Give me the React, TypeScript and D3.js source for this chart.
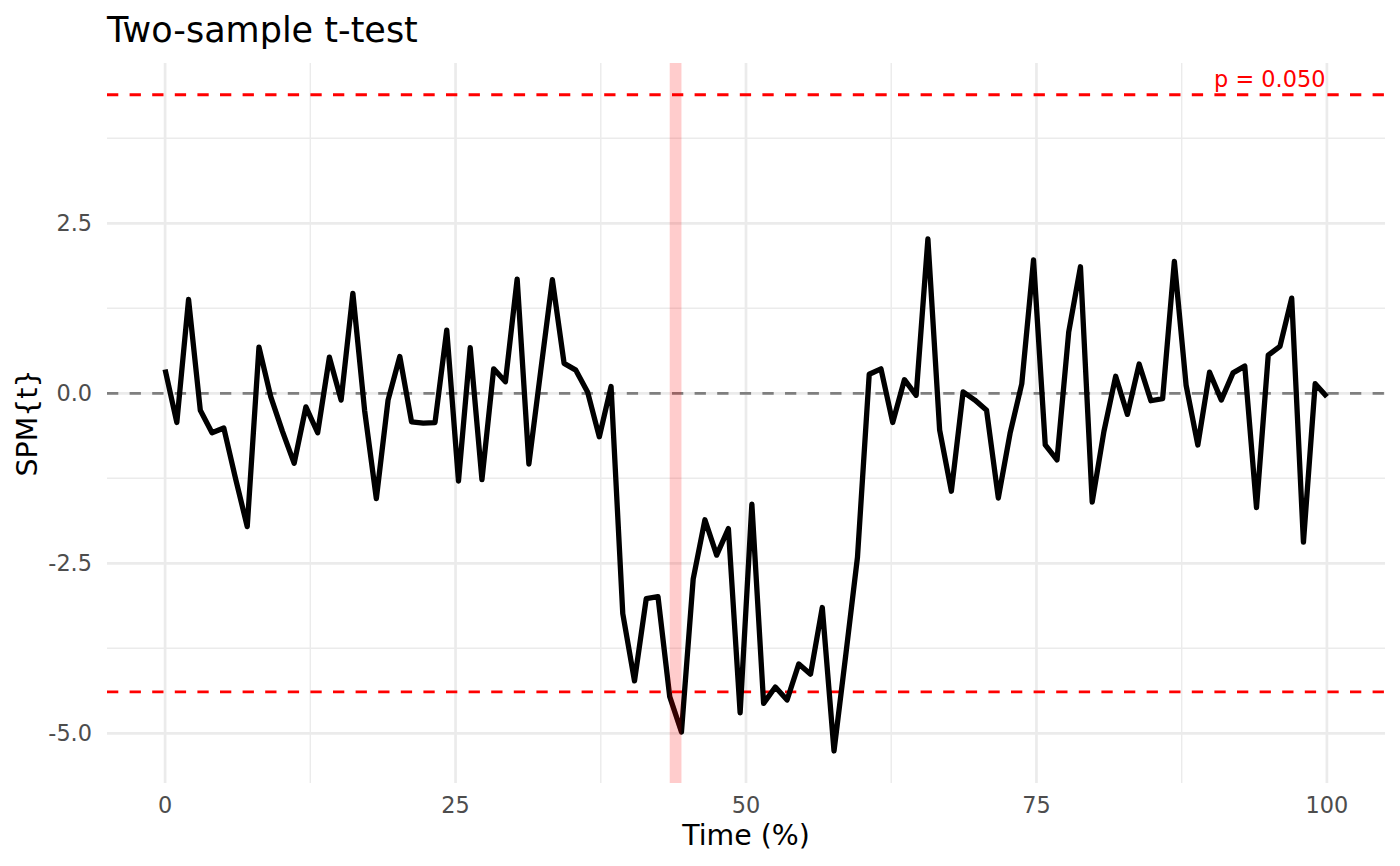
import React from "react";
import * as d3 from "d3";

const spmT: number[] = [
  0.35, -0.43, 1.38, -0.25, -0.58, -0.51, -1.25, -1.96, 0.68, -0.05,
  -0.56, -1.03, -0.2, -0.58, 0.53, -0.1, 1.47, -0.25, -1.55, -0.1,
  0.54, -0.42, -0.44, -0.43, 0.93, -1.29, 0.67, -1.27, 0.36, 0.17,
  1.68, -1.04, 0.32, 1.67, 0.44, 0.34, 0.02, -0.64, 0.1, -3.24,
  -4.23, -3.02, -2.99, -4.46, -4.98, -2.73, -1.86, -2.38, -1.99, -4.7,
  -1.63, -4.56, -4.32, -4.51, -3.98, -4.13, -3.15, -5.26, -3.85, -2.41,
  0.28, 0.36, -0.43, 0.2, -0.03, 2.27, -0.54, -1.44, 0.02, -0.1,
  -0.25, -1.54, -0.59, 0.14, 1.96, -0.76, -0.98, 0.9, 1.86, -1.6,
  -0.56, 0.25, -0.31, 0.43, -0.11, -0.08, 1.94, 0.12, -0.76, 0.31,
  -0.1, 0.3, 0.4, -1.68, 0.56, 0.69, 1.4, -2.19, 0.14, -0.05,
];
const timePct: number[] = spmT.map((_, i) => (i * 100) / (spmT.length - 1));
const threshold = 4.39;
const pLabel = "p = 0.050";
const clusterIdx: [number, number][] = [[43, 44]];
const xTicks: number[] = [0, 25, 50, 75, 100];
const xMinor: number[] = [12.5, 37.5, 62.5, 87.5];
const yTicks: number[] = [-5, -2.5, 0, 2.5];
const yMinor: number[] = [-3.75, -1.25, 1.25, 3.75];
const titleText = "Two-sample t-test";
const xLabel = "Time (%)";
const yLabel = "SPM{t}";

const W = 1400;
const H = 866;
const L = 107, R = 1385, T = 63, B = 783;
const FONT = "'DejaVu Sans', Verdana, sans-serif";
const GRID = "#EBEBEB";

export default function App() {
  const x = d3.scaleLinear().domain([-5, 105]).range([L, R]);
  const y = d3.scaleLinear().domain([-5.731, 4.857]).range([B, T]);
  const line = d3
    .line<number>()
    .x((_, i) => x(timePct[i]))
    .y((d) => y(d));
  const fmtY = (v: number) => d3.format(".1f")(v).replace("−", "-");

  return (
    <svg
      width={W}
      height={H}
      style={{ position: "absolute", left: 0, top: 0, background: "#fff" }}
      fontFamily={FONT}
    >
      <rect x={0} y={0} width={W} height={H} fill="#fff" />
      {/* minor grid */}
      {xMinor.map((v) => (
        <line key={"xm" + v} x1={x(v)} x2={x(v)} y1={T} y2={B} stroke={GRID} strokeWidth={1.4} />
      ))}
      {yMinor.map((v) => (
        <line key={"ym" + v} x1={L} x2={R} y1={y(v)} y2={y(v)} stroke={GRID} strokeWidth={1.4} />
      ))}
      {/* major grid */}
      {xTicks.map((v) => (
        <line key={"xM" + v} x1={x(v)} x2={x(v)} y1={T} y2={B} stroke={GRID} strokeWidth={2.7} />
      ))}
      {yTicks.map((v) => (
        <line key={"yM" + v} x1={L} x2={R} y1={y(v)} y2={y(v)} stroke={GRID} strokeWidth={2.7} />
      ))}
      {/* zero line */}
      <line x1={L} x2={R} y1={y(0)} y2={y(0)} stroke="#7F7F7F" strokeWidth={2.8} strokeDasharray="11.3 11.3" />
      {/* thresholds */}
      {[threshold, -threshold].map((v) => (
        <line key={"th" + v} x1={L} x2={R} y1={y(v)} y2={y(v)} stroke="#FF0000" strokeWidth={2.8} strokeDasharray="11.3 11.3" />
      ))}
      {/* SPM curve */}
      <path d={line(spmT) || ""} fill="none" stroke="#000" strokeWidth={5.3} strokeLinejoin="round" strokeLinecap="butt" />
      {/* suprathreshold clusters */}
      {clusterIdx.map(([a, b]) => (
        <rect
          key={"c" + a}
          x={x(timePct[a])}
          y={T}
          width={x(timePct[b]) - x(timePct[a])}
          height={B - T}
          fill="#FF0000"
          fillOpacity={0.2}
        />
      ))}
      {/* p label */}
      <text x={x(100) - 1.5} y={87} textAnchor="end" fill="#FF0000" fontSize={22.4}>
        {pLabel}
      </text>
      {/* axes text */}
      {xTicks.map((v) => (
        <text key={"xt" + v} x={x(v)} y={813} textAnchor="middle" fill="#4D4D4D" fontSize={22.4}>
          {String(v)}
        </text>
      ))}
      {yTicks.map((v) => (
        <text key={"yt" + v} x={92} y={y(v)} dy="0.36em" textAnchor="end" fill="#4D4D4D" fontSize={22.4}>
          {fmtY(v)}
        </text>
      ))}
      <text x={(L + R) / 2} y={845} textAnchor="middle" fill="#000" fontSize={28.4}>
        {xLabel}
      </text>
      <text
        transform={`translate(36.5, ${(T + B) / 2}) rotate(-90)`}
        textAnchor="middle"
        fill="#000"
        fontSize={28.4}
      >
        {yLabel}
      </text>
      <text x={L} y={42} fill="#000" fontSize={35}>
        {titleText}
      </text>
    </svg>
  );
}
